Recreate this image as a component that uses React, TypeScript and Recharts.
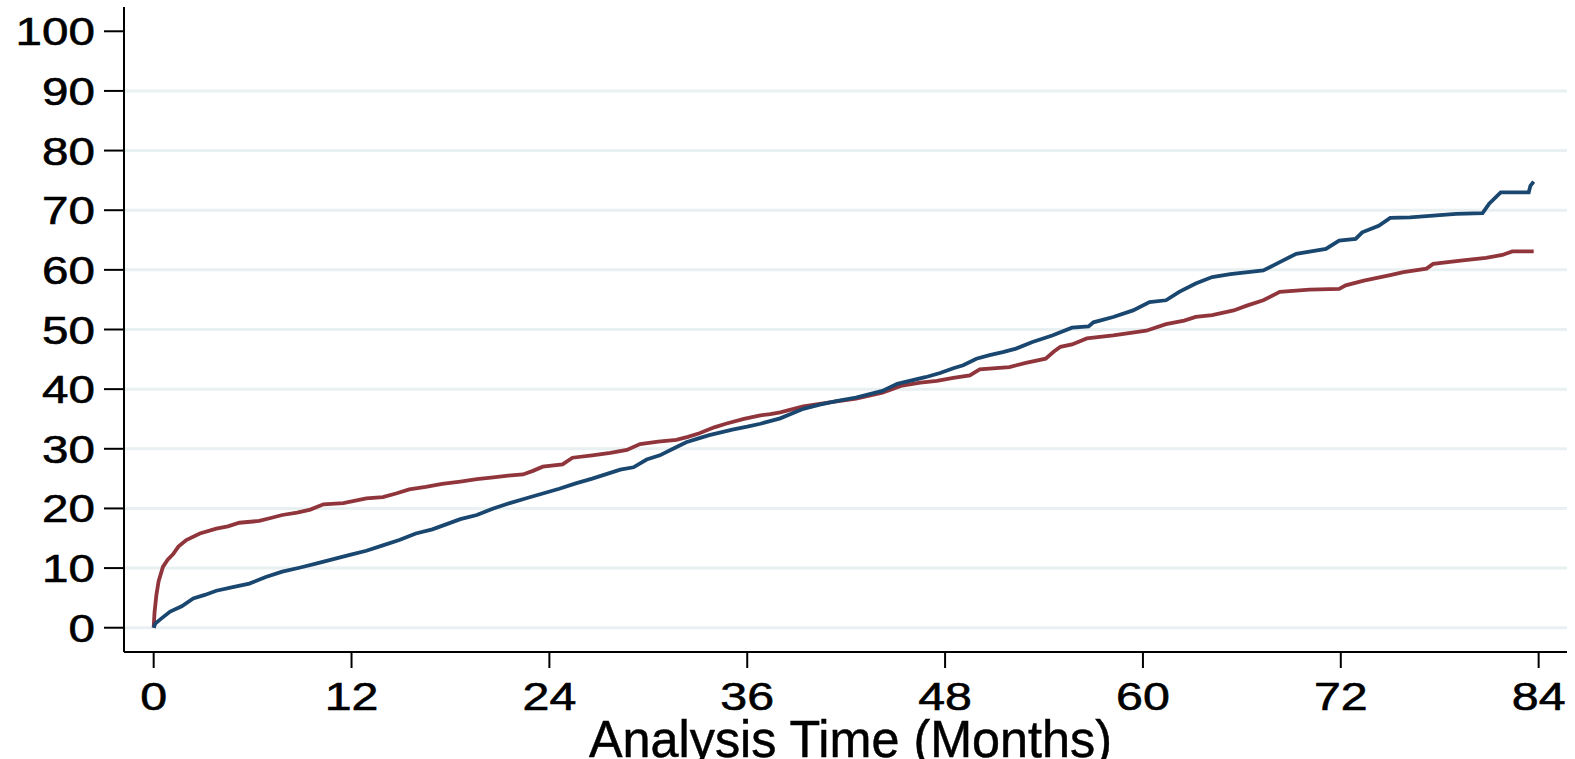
import { LineChart, Line, XAxis, YAxis, CartesianGrid, Label } from "recharts";

// cumulative incidence (%), two groups
const blueTime = [
  0, 0.1, 0.4, 1.0, 1.7, 2.4, 3.1, 3.8, 4.8, 5.8, 6.8, 7.8, 8.9, 9.9, 10.9, 11.9, 12.9, 13.9,
  14.9, 15.9, 16.9, 17.9, 18.6, 19.6, 20.6, 21.6, 22.6, 23.6, 24.6, 25.6, 26.6, 27.5, 28.3,
  29.1, 29.9, 30.7, 31.5, 32.3, 33.0, 33.7, 35.1, 36.0, 36.8, 38.0, 39.4, 40.4, 41.4, 42.6,
  44.2, 45.1, 46.8, 47.7, 48.5, 49.1, 49.9, 50.7, 51.5, 52.3, 53.3, 54.5, 55.7, 56.7, 57.0,
  58.2, 59.4, 60.4, 61.4, 62.2, 63.2, 64.2, 65.3, 67.3, 68.3, 69.3, 70.2, 71.1, 71.9, 72.9,
  73.3, 74.3, 75.0, 76.2, 79.0, 80.6, 81.0, 81.7, 83.4, 83.5, 83.7,
];
const blueRisk = [
  0, 0.7, 1.4, 2.7, 3.6, 4.9, 5.5, 6.2, 6.8, 7.4, 8.5, 9.4, 10.1, 10.8, 11.5, 12.2, 12.9, 13.8,
  14.7, 15.8, 16.5, 17.5, 18.2, 18.9, 20.0, 20.9, 21.7, 22.5, 23.3, 24.2, 25.0, 25.8, 26.5,
  26.9, 28.2, 28.9, 30.0, 31.1, 31.7, 32.3, 33.2, 33.7, 34.2, 35.1, 36.7, 37.4, 38.0, 38.6,
  39.7, 40.9, 42.0, 42.7, 43.5, 44.0, 45.1, 45.7, 46.2, 46.8, 47.9, 49.0, 50.3, 50.5, 51.2,
  52.1, 53.2, 54.6, 54.9, 56.3, 57.7, 58.8, 59.3, 59.9, 61.3, 62.7, 63.1, 63.5, 64.9, 65.2,
  66.3, 67.4, 68.7, 68.8, 69.4, 69.5, 71.1, 73.0, 73.0, 74.1, 74.8,
];

const redTime = [
  0, 0.05, 0.16, 0.3, 0.56, 0.85, 1.17, 1.5, 1.98, 2.8, 3.8, 4.5, 5.2, 6.4, 7.1, 7.8, 8.7, 9.5,
  10.3, 11.5, 12.9, 13.9, 14.7, 15.5, 16.5, 17.5, 18.6, 19.6, 20.6, 21.5, 22.4, 23.0, 23.6,
  24.8, 25.4, 26.6, 27.7, 28.7, 29.5, 30.6, 31.7, 32.4, 33.1, 34.0, 34.7, 35.8, 36.8, 37.4,
  38.0, 39.4, 41.0, 42.6, 44.2, 45.4, 46.5, 47.5, 48.5, 49.5, 50.1, 51.9, 52.9, 54.1, 54.6,
  55.0, 55.7, 56.6, 58.2, 60.2, 61.4, 62.5, 63.2, 64.2, 65.5, 66.3, 67.3, 68.3, 70.1, 71.9,
  72.3, 73.4, 75.0, 75.8, 77.2, 77.6, 79.4, 80.8, 81.8, 82.4, 83.7,
];
const redRisk = [
  0, 2.5, 5.4, 7.8, 10.2, 11.4, 12.3, 13.6, 14.7, 15.8, 16.6, 17.0, 17.6, 17.9, 18.4, 18.9,
  19.3, 19.8, 20.7, 20.9, 21.7, 21.9, 22.5, 23.2, 23.6, 24.1, 24.5, 24.9, 25.2, 25.5, 25.7,
  26.3, 27.0, 27.4, 28.5, 28.9, 29.3, 29.8, 30.8, 31.2, 31.5, 32.0, 32.6, 33.6, 34.2, 35.0,
  35.6, 35.8, 36.1, 37.1, 37.8, 38.4, 39.4, 40.6, 41.1, 41.4, 41.9, 42.3, 43.3, 43.7, 44.4,
  45.1, 46.3, 47.1, 47.5, 48.5, 49.0, 49.8, 50.9, 51.5, 52.1, 52.4, 53.2, 54.0, 54.9, 56.3,
  56.7, 56.8, 57.4, 58.2, 59.1, 59.6, 60.2, 61.0, 61.6, 62.0, 62.5, 63.1, 63.1,
];

const xTicks = [0, 12, 24, 36, 48, 60, 72, 84];
const yTicks = [0, 10, 20, 30, 40, 50, 60, 70, 80, 90, 100];
const gridValues = [0, 10, 20, 30, 40, 50, 60, 70, 80, 90];

const blueData = blueTime.map((t, i) => ({ t, v: blueRisk[i] }));
const redData = redTime.map((t, i) => ({ t, v: redRisk[i] }));

const FONT = "'Liberation Sans', Arial, Helvetica, sans-serif";
const NAVY = "#1a476f";
const MAROON = "#90353b";

function XTick({ x, y, payload }: any) {
  return (
    <text
      transform={`translate(${x},${y + 28}) scale(1.24,1)`}
      textAnchor="middle"
      fontSize={39}
      fontFamily={FONT}
      fill="#000"
      stroke="#000"
      strokeWidth={0.6}
    >
      {payload.value}
    </text>
  );
}

function YTick({ x, y, payload }: any) {
  return (
    <text
      transform={`translate(${x},${y + 14}) scale(1.22,1)`}
      textAnchor="end"
      fontSize={39}
      fontFamily={FONT}
      fill="#000"
      stroke="#000"
      strokeWidth={0.6}
    >
      {payload.value}
    </text>
  );
}

function AxisTitle({ viewBox }: any) {
  const cx = viewBox.x + viewBox.width / 2 + 5;
  return (
    <text
      x={cx}
      y={757}
      textAnchor="middle"
      fontSize={52}
      fontFamily={FONT}
      fill="#000"
      stroke="#000"
      strokeWidth={0.5}
      textLength={523}
      lengthAdjust="spacingAndGlyphs"
    >
      Analysis Time (Months)
    </text>
  );
}

export default function App() {
  return (
    <div style={{ position: "absolute", left: 0, top: 0, width: 1575, height: 759, background: "#fff" }}>
      <LineChart width={1575} height={759} margin={{ top: 7, right: 8, left: 0, bottom: 0 }}>
        <CartesianGrid
          vertical={false}
          horizontalValues={gridValues}
          stroke="#e8f0f1"
          strokeWidth={3}
        />
        <XAxis
          type="number"
          dataKey="t"
          domain={[-1.8, 85.72]}
          ticks={xTicks}
          interval={0}
          allowDataOverflow
          height={107}
          tickSize={16}
          tickMargin={14}
          axisLine={{ stroke: "#000", strokeWidth: 2 }}
          tickLine={{ stroke: "#000", strokeWidth: 2 }}
          tick={<XTick />}
        >
          <Label content={<AxisTitle />} />
        </XAxis>
        <YAxis
          type="number"
          domain={[-4.07, 104.07]}
          ticks={yTicks}
          interval={0}
          allowDataOverflow
          width={124}
          tickSize={20}
          tickMargin={9}
          axisLine={{ stroke: "#000", strokeWidth: 2 }}
          tickLine={{ stroke: "#000", strokeWidth: 2 }}
          tick={<YTick />}
        />
        <Line
          data={redData}
          dataKey="v"
          name="Group 2"
          type="linear"
          stroke={MAROON}
          strokeWidth={3.8}
          dot={false}
          isAnimationActive={false}
        />
        <Line
          data={blueData}
          dataKey="v"
          name="Group 1"
          type="linear"
          stroke={NAVY}
          strokeWidth={3.8}
          dot={false}
          isAnimationActive={false}
        />
      </LineChart>
    </div>
  );
}
